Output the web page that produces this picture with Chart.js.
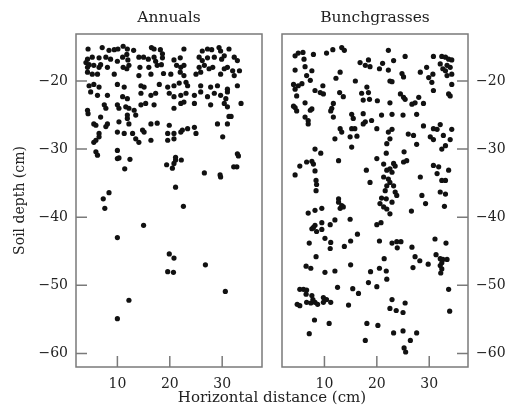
<!DOCTYPE html>
<html>
<head>
<meta charset="utf-8">
<script src="https://cdn.jsdelivr.net/npm/chart.js@4.4.0/dist/chart.umd.min.js"></script>
<style>
  html, body { margin: 0; padding: 0; background: #fff; overflow: hidden; }
  #wrap { position: relative; width: 509px; height: 419px; }
  #left { position: absolute; left: 0; top: 0; }
  #right { position: absolute; left: 272px; top: 0; }
  #xtitle { position: absolute; left: 122px; width: 300px; top: 388px; text-align: center;
            font: 15px 'DejaVu Serif', serif; color: #222; }
</style>
</head>
<body>
<div id="wrap">
  <canvas id="left" width="272" height="419"></canvas>
  <canvas id="right" width="237" height="419"></canvas>
  <div id="xtitle">Horizontal distance (cm)</div>
</div>
<script>
// tick values
const xTicks = [10, 20, 30];
const yTicks = [-20, -30, -40, -50, -60];

// [distance, depth]
const annuals = [
  [4.4,-15.3],[7.1,-15.1],[8.4,-15.5],[9.4,-15.4],[10.1,-15.3],[11.1,-14.9],[11.9,-15.3],[13.1,-15.5],[16.5,-15.1],[17.0,-15.3],
  [18.2,-15.4],[18.6,-16.0],[22.7,-15.3],[26.2,-15.6],[27.2,-15.3],[28.0,-15.4],[29.4,-15.1],[29.7,-15.6],[31.3,-15.3],
  [4.3,-16.8],[4.0,-17.3],[5.2,-16.5],[6.5,-16.6],[7.8,-16.5],[8.7,-16.8],[11.0,-16.5],[11.8,-16.1],[12.0,-16.9],[14.1,-16.5],
  [15.0,-16.5],[15.9,-16.8],[17.0,-16.5],[17.3,-17.1],[18.6,-16.6],[20.8,-16.9],[22.0,-16.6],[25.6,-16.5],[26.2,-17.0],[27.2,-16.6],
  [28.5,-16.5],[29.9,-16.8],[30.4,-16.3],[32.3,-16.5],[32.9,-17.0],
  [4.3,-18.0],[4.6,-17.6],[5.5,-17.7],[6.5,-18.0],[6.8,-17.6],[8.1,-18.0],[10.0,-17.1],[11.1,-18.0],[11.8,-18.2],[12.2,-17.7],
  [14.3,-18.0],[16.0,-18.0],[17.6,-17.7],[18.4,-17.6],[21.3,-17.7],[22.1,-18.0],[22.7,-17.7],[25.6,-18.0],[26.6,-17.7],[27.5,-18.2],
  [28.2,-18.0],[30.4,-18.2],[31.0,-18.0],[32.0,-18.5],[33.3,-18.5],
  [4.3,-18.7],[5.2,-19.0],[6.2,-19.0],[9.4,-19.0],[14.1,-19.2],[16.4,-19.0],[18.8,-18.9],[20.2,-19.0],[22.0,-18.7],[22.7,-19.2],
  [25.0,-19.0],[25.9,-18.7],[29.7,-19.0],[32.3,-19.2],
  [4.6,-20.7],[5.5,-20.5],[6.5,-20.9],[10.0,-20.5],[11.3,-20.9],[14.5,-20.7],[15.1,-20.9],[18.0,-20.5],[19.6,-20.9],[20.8,-20.7],
  [21.8,-20.3],[23.1,-20.2],[23.4,-20.7],[25.9,-20.7],[27.8,-20.9],[29.1,-20.7],[31.0,-21.2],[32.9,-20.7],
  [4.9,-21.6],[6.2,-22.1],[8.1,-22.1],[11.0,-22.3],[11.9,-22.6],[14.5,-21.8],[16.4,-22.1],[17.3,-21.8],[19.9,-21.8],[20.8,-22.3],
  [22.1,-22.1],[23.1,-21.8],[24.7,-22.1],[25.9,-21.6],[27.2,-22.3],[28.5,-21.8],[29.7,-22.1],[30.7,-22.6],[31.0,-21.6],
  [4.3,-24.3],[4.4,-24.8],[7.5,-23.5],[7.8,-24.0],[10.0,-23.5],[10.3,-24.0],[11.6,-23.8],[12.2,-24.0],[13.2,-24.3],[14.5,-23.5],
  [15.4,-23.3],[17.0,-23.5],[20.8,-24.0],[22.1,-23.3],[22.7,-23.1],[24.7,-23.3],[27.8,-23.5],[30.4,-23.3],[31.0,-23.8],[33.6,-23.3],
  [6.8,-25.3],[5.5,-26.3],[5.9,-26.5],[8.1,-26.3],[7.8,-26.7],[10.3,-26.0],[11.9,-25.5],[12.2,-26.3],[13.5,-25.0],[11.9,-25.0],
  [16.4,-26.3],[17.6,-26.2],[19.9,-26.5],[22.4,-27.2],[23.4,-27.0],[24.7,-26.8],[20.8,-27.7],[29.1,-26.3],[31.0,-26.3],[31.3,-25.2],
  [31.7,-25.2],
  [6.5,-27.7],[6.5,-28.2],[10.0,-27.5],[11.3,-27.7],[12.9,-27.7],[13.5,-28.5],[14.1,-29.0],[14.8,-27.2],[15.1,-27.5],[16.4,-28.7],
  [19.6,-27.7],[19.6,-28.7],[20.8,-28.5],[22.1,-27.5],[25.0,-27.7],[30.1,-28.2],[5.5,-29.0],[5.9,-28.7],
  [5.9,-30.4],[6.2,-30.9],[10.0,-30.2],[32.9,-30.7],
  [10.0,-31.4],[10.3,-31.3],[12.4,-31.5],[11.4,-32.9],[19.4,-32.3],[20.5,-32.8],[20.8,-32.1],[21.1,-31.6],[21.1,-31.2],[22.2,-31.6],
  [26.6,-33.5],[29.6,-33.8],[29.7,-34.1],[32.2,-32.6],[32.8,-32.6],[33.1,-31.0],
  [8.4,-36.4],[7.3,-37.3],[7.6,-38.7],[21.1,-35.6],[22.6,-38.4],[15.0,-41.2],[10.0,-43.0],[19.9,-45.4],[20.8,-46.0],[19.6,-48.0],
  [20.7,-48.1],[26.8,-47.0],[30.6,-50.9],[12.2,-52.2],[10.0,-54.9]
];

const bunchgrasses = [
  [4.4,-16.3],[5.0,-15.9],[5.9,-15.8],[6.1,-16.8],[7.9,-16.1],[10.4,-15.9],[11.6,-15.4],[13.3,-15.1],[13.8,-15.5],[22.2,-15.5],
  [25.4,-16.4],[30.8,-16.4],[32.4,-16.4],[33.1,-16.5],[33.7,-16.8],[34.3,-16.9],
  [4.4,-18.4],[6.3,-17.9],[7.6,-18.5],[6.6,-19.2],[7.3,-19.9],[4.1,-20.5],[4.4,-21.2],[5.0,-20.7],[5.7,-20.4],[4.7,-22.2],
  [8.2,-21.4],[9.2,-21.7],[9.7,-20.7],[9.8,-21.9],[12.2,-19.6],[13.0,-18.7],[12.9,-21.7],[13.6,-22.3],[15.9,-20.0],[16.8,-17.3],
  [17.8,-17.7],[18.4,-16.9],[18.7,-17.9],[18.1,-20.9],[18.4,-21.7],[17.1,-21.8],[18.6,-22.7],[17.4,-22.8],[20.5,-18.2],[21.1,-17.4],
  [22.2,-18.4],[23.2,-17.0],[22.5,-20.0],[22.9,-20.1],[20.1,-22.9],[22.5,-23.2],[24.8,-18.9],[25.1,-19.4],[24.5,-21.9],[25.1,-22.4],
  [25.4,-22.7],[26.7,-23.4],[27.3,-23.2],[28.0,-22.4],[28.9,-23.3],[28.3,-18.7],[29.5,-18.0],[29.9,-19.5],[30.7,-19.0],[30.5,-20.2],
  [30.8,-21.4],[32.1,-17.5],[32.6,-18.2],[33.1,-18.5],[33.4,-17.7],[34.0,-18.0],[34.3,-19.0],[33.4,-19.2],[34.3,-20.5],[33.7,-21.9],
  [34.0,-22.2],[4.1,-23.7],[4.4,-23.9],[6.3,-23.2],[7.6,-24.1],[11.7,-23.3],[11.4,-24.0],
  [4.7,-24.4],[7.3,-24.3],[11.2,-24.4],[11.7,-25.3],[6.3,-25.3],[6.9,-25.8],[6.9,-26.3],[15.2,-24.9],[15.5,-25.5],[17.4,-24.8],
  [17.8,-26.0],[17.4,-26.3],[19.0,-25.8],[20.9,-25.0],[22.9,-24.9],[25.0,-25.0],[27.6,-24.9],[13.0,-27.0],[13.3,-27.5],[12.0,-28.5],
  [14.9,-28.2],[15.2,-27.0],[15.8,-27.0],[16.2,-28.1],[15.2,-29.7],[20.0,-27.0],[22.2,-27.5],[22.9,-27.1],[22.5,-28.5],[21.9,-29.2],
  [26.0,-27.8],[27.0,-28.0],[27.6,-29.3],[28.9,-26.6],[30.8,-27.0],[31.5,-27.1],[32.1,-26.4],[34.3,-27.1],[30.2,-28.2],[30.8,-28.6],
  [32.7,-28.0],[34.0,-28.6],[33.1,-29.5],[32.4,-30.0],[8.2,-30.0],[9.3,-30.6],[5.3,-32.5],[4.4,-33.8],[6.6,-31.9],[7.6,-31.8],
  [7.9,-32.2],[8.2,-33.2],[8.4,-34.6],[8.5,-35.2],[8.4,-36.1],[12.7,-31.7],[18.0,-33.1],[18.7,-34.9],[20.0,-31.4],[21.3,-32.2],
  [21.8,-30.6],[23.2,-32.1],[23.5,-32.5],[22.5,-32.9],[22.9,-33.4],[21.9,-33.1],[21.3,-34.1],[22.2,-34.4],[22.5,-34.9],[21.9,-35.4],
  [23.2,-35.4],[21.6,-36.1],[23.5,-36.3],[23.8,-36.8],[25.2,-30.4],[25.1,-31.9],[25.7,-31.7],[28.3,-34.1],[28.6,-36.8],[30.8,-32.4],
  [31.8,-32.6],[31.5,-33.6],[33.7,-33.1],[32.4,-34.6],[33.1,-34.6],[32.1,-36.3],[33.1,-36.6],[12.7,-37.3],[20.9,-37.2],[21.8,-37.3],
  [6.9,-39.4],[8.2,-39.0],[9.5,-38.7],[12.7,-37.8],[13.3,-38.3],[13.0,-38.7],[13.6,-38.5],[20.6,-38.0],[21.3,-38.5],[21.9,-38.8],
  [22.9,-37.8],[22.5,-39.5],[26.6,-39.1],[29.3,-38.0],[32.9,-38.4],[14.9,-40.3],[12.0,-40.4],[11.1,-41.1],[9.5,-40.8],[9.5,-41.8],
  [8.2,-41.2],[7.6,-41.7],[8.5,-42.1],[7.9,-41.5],[16.3,-42.5],[20.0,-41.1],[20.8,-40.8],[10.1,-43.1],[11.2,-43.7],[11.1,-44.6],
  [7.1,-43.8],[13.8,-44.3],[15.0,-43.5],[20.5,-43.5],[22.9,-43.8],[23.8,-43.6],[24.6,-43.6],[23.9,-44.5],[26.7,-44.4],[27.3,-45.8],
  [28.2,-46.4],[31.1,-43.2],[31.3,-45.5],[33.2,-43.8],[32.1,-46.1],[32.6,-46.2],[33.4,-46.2],[32.4,-46.7],[32.1,-47.1],[32.4,-47.6],
  [32.2,-48.2],[8.4,-45.8],[6.5,-47.2],[7.4,-47.5],[10.1,-48.1],[12.0,-47.9],[15.0,-47.0],[18.8,-48.0],[20.5,-47.5],[21.8,-47.9],
  [21.4,-46.1],[21.9,-49.1],[26.9,-47.4],[29.8,-46.9],[18.4,-49.6],[20.0,-50.2],[12.5,-50.3],[15.4,-50.5],[16.5,-51.2],
  [5.3,-50.6],[6.0,-50.6],[6.6,-50.7],[6.5,-51.3],[7.6,-51.5],[6.6,-52.5],[7.4,-52.6],[8.2,-52.5],[4.8,-52.8],[5.3,-53.0],
  [7.8,-52.1],[8.7,-52.8],[9.8,-51.8],[10.4,-52.1],[9.8,-52.5],[11.2,-52.5],[14.6,-52.9],[33.7,-50.6],[22.9,-52.1],[25.4,-52.6],
  [22.5,-53.4],[23.7,-53.7],[25.0,-54.0],[33.9,-53.8],[8.1,-55.1],[10.9,-55.6],[18.1,-55.6],[20.2,-55.9],[7.1,-57.1],[23.2,-57.0],
  [25.0,-56.7],[27.6,-57.0],[17.8,-58.1],[26.4,-58.1],[25.2,-59.2],[25.5,-59.8]
];

Chart.defaults.font.family = "'DejaVu Serif', serif";
Chart.defaults.font.size = 14;
Chart.defaults.color = '#222';

// box round the plot and ticks pointing inwards
const frameTicks = {
  id: 'frameTicks',
  afterDraw(chart) {
    const { ctx, chartArea: a } = chart;
    const x = chart.scales.x, y = chart.scales.y;
    ctx.save();
    ctx.strokeStyle = '#7a7a7a';
    ctx.lineWidth = 1.5;
    ctx.strokeRect(a.left, a.top, a.right - a.left, a.bottom - a.top);
    ctx.beginPath();
    xTicks.forEach(v => {
      const px = x.getPixelForValue(v);
      ctx.moveTo(px, a.bottom);
      ctx.lineTo(px, a.bottom - 11);
    });
    yTicks.forEach(v => {
      const py = y.getPixelForValue(v);
      if (y.position === 'right') {
        ctx.moveTo(a.right, py);
        ctx.lineTo(a.right - 11, py);
      } else {
        ctx.moveTo(a.left, py);
        ctx.lineTo(a.left + 11, py);
      }
    });
    ctx.stroke();
    ctx.restore();
  }
};

function makePanel(id, title, pts, side, xMin, xMax) {
  const isLeft = side === 'left';
  return new Chart(document.getElementById(id), {
    type: 'scatter',
    data: {
      datasets: [{
        data: pts.map(p => ({ x: p[0], y: p[1] })),
        backgroundColor: '#111',
        borderWidth: 0,
        pointRadius: 2.6
      }]
    },
    options: {
      responsive: false,
      animation: false,
      events: [],
      layout: { padding: { left: isLeft ? 0 : 10, right: isLeft ? 10 : 0, top: 0, bottom: 0 } },
      plugins: {
        legend: { display: false },
        tooltip: { enabled: false },
        title: { display: true, fullSize: false, text: title, color: '#222',
                 font: { size: 15.5, weight: 'normal' }, padding: { top: 8.2, bottom: 7.2 } }
      },
      scales: {
        x: {
          type: 'linear', min: xMin, max: xMax,
          grid: { display: false, drawTicks: false },
          border: { display: false },
          afterBuildTicks: s => { s.ticks = xTicks.map(v => ({ value: v })); },
          afterFit: s => { s.height = 52; },
          ticks: { padding: 9, maxRotation: 0 }
        },
        y: {
          type: 'linear', position: side, min: -62, max: -13.1,
          grid: { display: false, drawTicks: false },
          border: { display: false },
          afterBuildTicks: s => { s.ticks = yTicks.map(v => ({ value: v })); },
          afterFit: s => { s.width = isLeft ? 76 : 41; },
          title: { display: isLeft, text: 'Soil depth (cm)', font: { size: 14 }, padding: { top: 12, bottom: 0 } },
          ticks: { padding: 8, callback: v => '\u2212' + Math.abs(v) }
        }
      }
    },
    plugins: [frameTicks]
  });
}

makePanel('left', 'Annuals', annuals, 'left', 2.1, 37.6);
makePanel('right', 'Bunchgrasses', bunchgrasses, 'right', 1.9, 37.4);
</script>
</body>
</html>
